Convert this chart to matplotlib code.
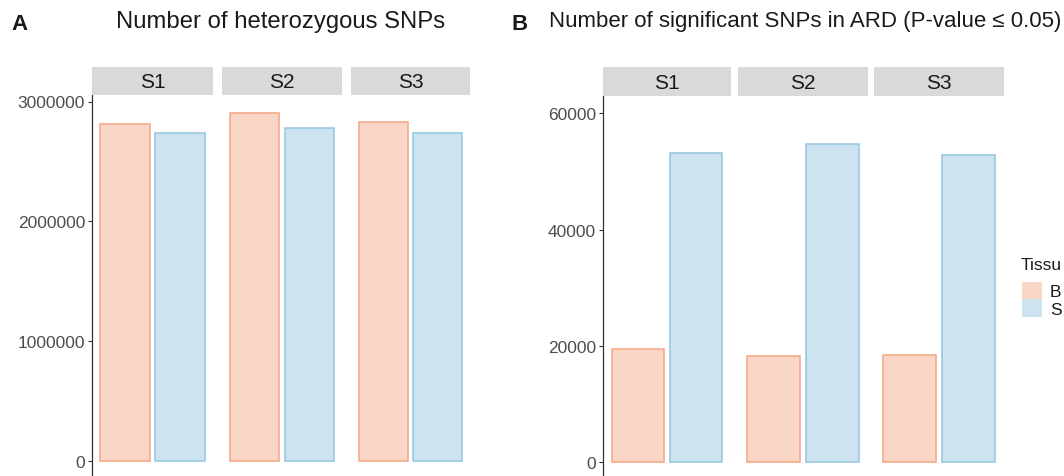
import matplotlib
matplotlib.use("Agg")
import matplotlib.pyplot as plt
from matplotlib.patches import Patch

plt.rcParams['font.family'] = ['Liberation Sans', 'DejaVu Sans']

# ---- data ----
samples = ["S1", "S2", "S3"]
# legend text as visible in the (cropped) reference
legend_title = "Tissu"
tissues = ["B", "S"]
het_snps_blood = [2814000, 2900000, 2831000]
het_snps_sperm = [2736000, 2783000, 2736000]
sig_snps_blood = [19480, 18340, 18450]
sig_snps_sperm = [53240, 54720, 52780]
ticks_a = [0, 1000000, 2000000, 3000000]
ticks_b = [0, 20000, 40000, 60000]

fill_cols = ["#F4A582", "#92C5DE"]
edge_cols = ["#F4A582", "#92C5DE"]

W, H = 1064, 477
fig = plt.figure(figsize=(W / 100, H / 100), dpi=100)


def px_axes(x0, x1, y0, y1):
    return fig.add_axes([x0 / W, 1 - y1 / H, (x1 - x0) / W, (y1 - y0) / H])


def draw_group(panels_x, top, strip_top, ylim, ticks, blood, sperm):
    for i, (x0, x1) in enumerate(panels_x):
        ax = px_axes(x0, x1, top, 480)
        vals = [blood[i], sperm[i]]
        ax.bar([1, 2], vals, width=0.9, color=fill_cols, alpha=0.45,
               edgecolor="none", zorder=2)
        ax.bar([1, 2], vals, width=0.9, color="none",
               edgecolor=edge_cols, linewidth=1.1, zorder=3)
        ax.set_xlim(0.4, 2.6)
        ax.set_ylim(*ylim)
        ax.set_xticks([])
        for s in ["top", "right", "bottom"]:
            ax.spines[s].set_visible(False)
        if i == 0:
            ax.spines["left"].set_color("#333333")
            ax.spines["left"].set_linewidth(0.9)
            ax.set_yticks(ticks)
            ax.set_yticklabels([str(t) for t in ticks])
            ax.tick_params(axis="y", length=3, width=0.8, color="#333333",
                           labelsize=12.5, labelcolor="#4D4D4D", pad=2)
        else:
            ax.spines["left"].set_visible(False)
            ax.set_yticks([])
        # strip
        sx = px_axes(x0, x1, strip_top, top)
        sx.set_facecolor("#D9D9D9")
        sx.set_xticks([])
        sx.set_yticks([])
        for s in sx.spines.values():
            s.set_visible(False)
        sx.text(0.5, 0.47, samples[i], ha="center", va="center",
                fontsize=15, color="#1A1A1A", transform=sx.transAxes)


panels_a = [(92, 213), (222, 342), (351, 470)]
panels_b = [(603, 731), (738, 868), (874, 1004)]

ppm_a = (462 - 102.5) / 3000000
ylim_a = (-(480 - 462) / ppm_a, (462 - 96) / ppm_a)
ppk_b = (463.3 - 114.3) / 60000
ylim_b = (-(480 - 463.3) / ppk_b, (463.3 - 97) / ppk_b)

draw_group(panels_a, 96, 68, ylim_a, ticks_a, het_snps_blood, het_snps_sperm)
draw_group(panels_b, 97, 68, ylim_b, ticks_b, sig_snps_blood, sig_snps_sperm)

# titles and panel tags
fig.text(20 / W, 1 - 24 / H, "A", fontsize=16, fontweight="bold",
         ha="center", va="center", color="#1A1A1A")
fig.text(281 / W, 1 - 22 / H, "Number of heterozygous SNPs", fontsize=17.2,
         ha="center", va="center", color="#1A1A1A")
fig.text(520 / W, 1 - 24 / H, "B", fontsize=16, fontweight="bold",
         ha="center", va="center", color="#1A1A1A")
fig.text(1061 / W, 1 - 22 / H, "Number of significant SNPs in ARD (P-value \u2264 0.05)",
         fontsize=16, ha="right", va="center", color="#1A1A1A")

# legend
fig.text(1021 / W, 1 - 266 / H, legend_title, fontsize=12.5,
         ha="left", va="center", color="#1A1A1A")
handles = [Patch(facecolor=c, alpha=0.45, edgecolor="none") for c in fill_cols]
leg = fig.legend(handles, tissues, loc="upper left",
                 bbox_to_anchor=(1022 / W, 1 - 283 / H), frameon=False,
                 fontsize=12.5, handlelength=1.15,
                 handleheight=1.15, handletextpad=0.45, labelspacing=0.0,
                 borderaxespad=0, borderpad=0)
for t in leg.get_texts():
    t.set_color("#1A1A1A")

fig.savefig("out.png", dpi=100)
